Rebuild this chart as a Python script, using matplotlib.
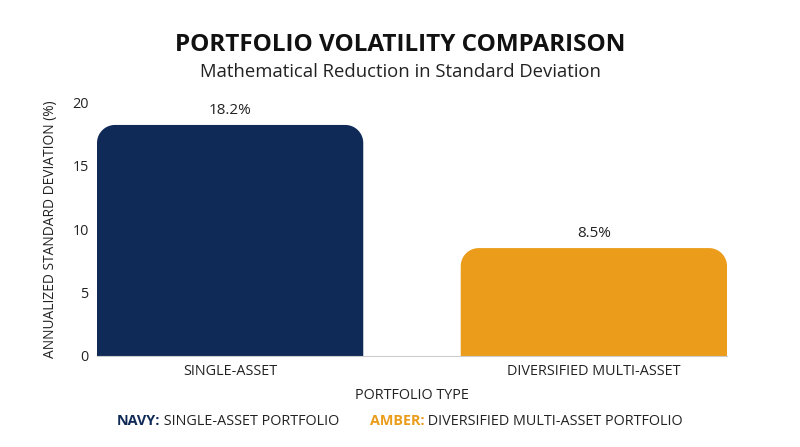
import matplotlib
matplotlib.use("Agg")
import matplotlib.pyplot as plt
import numpy as np
from matplotlib.patches import Polygon

plt.rcParams['font.family'] = ['Open Sans', 'DejaVu Sans']

categories = ["SINGLE-ASSET", "DIVERSIFIED MULTI-ASSET"]
volatility = [18.2, 8.5]
value_labels = ["18.2%", "8.5%"]
colors = ["#102a57", "#eb9c1a"]
yticks = [0, 5, 10, 15, 20]

fig = plt.figure(figsize=(8, 4.47), dpi=100)
ax = fig.add_axes([0.12125, 0.2036, 0.7875, 0.568])

width = 0.732
ax.set_xlim(-0.366, 1.366)
ax.set_ylim(0, 20)

# convert a corner radius in pixels to data units
rad_px = 18
ax_w = 0.7875 * 800
ax_h = 0.568 * 447
rx = rad_px * (1.732 / ax_w)
ry = rad_px * (20 / ax_h)


def rounded_bar(x0, w, h, color):
    t = np.linspace(0, np.pi / 2, 20)
    pts = [(x0, 0)]
    # top left corner
    cx, cy = x0 + rx, h - ry
    pts += list(zip(cx - rx * np.cos(t), cy + ry * np.sin(t)))
    # top right corner
    cx = x0 + w - rx
    pts += list(zip(cx + rx * np.sin(t), cy + ry * np.cos(t)))
    pts.append((x0 + w, 0))
    ax.add_patch(Polygon(pts, closed=True, facecolor=color, edgecolor="none"))


for i, v in enumerate(volatility):
    rounded_bar(i - width / 2, width, v, colors[i])
    ax.text(i, v + 0.55, value_labels[i], ha="center", va="bottom", fontsize=11, color="#222222")

for s in ["top", "right", "left"]:
    ax.spines[s].set_visible(False)
ax.spines["bottom"].set_color("#cccccc")
ax.spines["bottom"].set_linewidth(0.8)

ax.set_xticks(range(len(categories)))
ax.set_xticklabels(categories, fontsize=10.4)
ax.set_yticks(yticks)
ax.set_yticklabels([str(y) for y in yticks], fontsize=10.4)
ax.tick_params(axis="both", length=0, pad=6, colors="#222222")
ax.set_xlabel("PORTFOLIO TYPE", fontsize=10.4, labelpad=6, color="#222222")
ax.set_ylabel("ANNUALIZED STANDARD DEVIATION (%)", fontsize=9.9, labelpad=10, color="#222222")

fig.text(0.5, 0.9, "PORTFOLIO VOLATILITY COMPARISON", ha="center", va="center",
         fontsize=17.5, fontweight="bold", color="#111111")
fig.text(0.5, 0.84, "Mathematical Reduction in Standard Deviation", ha="center", va="center",
         fontsize=13.3, color="#222222")

# legend line built from pieces
pieces = [("NAVY:", colors[0], "bold"), (" SINGLE-ASSET PORTFOLIO", "#222222", "normal"),
          ("        ", "#222222", "normal"),
          ("AMBER:", colors[1], "bold"), (" DIVERSIFIED MULTI-ASSET PORTFOLIO", "#222222", "normal")]
r = fig.canvas.get_renderer()
objs = []
for txt, c, wgt in pieces:
    objs.append(fig.text(0, 0.058, txt, fontsize=10.4, color=c, fontweight=wgt, va="center"))
widths = [o.get_window_extent(r).width for o in objs]
x = (800 - sum(widths)) / 2
for o, w in zip(objs, widths):
    o.set_x(x / 800)
    x += w

fig.savefig("out.png", dpi=100)
